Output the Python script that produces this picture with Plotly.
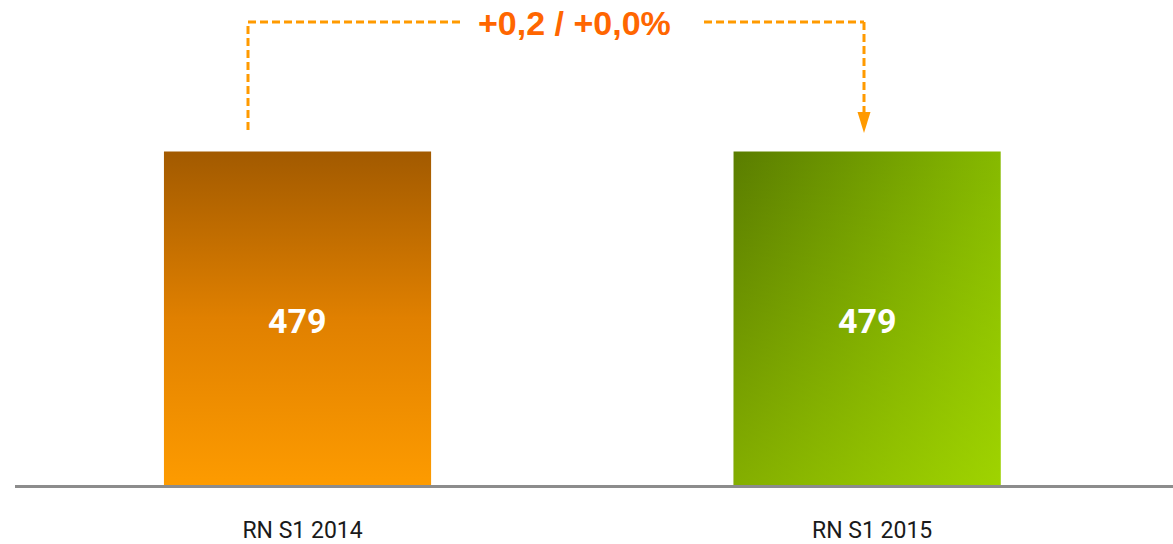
import plotly.graph_objects as go

# ---- data ----
categories = ["RN S1 2014", "RN S1 2015"]
values = [479, 479]
value_labels = ["479", "479"]
delta_label = "+0,2 / +0,0%"

# ---- layout constants (pixels) ----
W, H = 1173, 544
M_L, M_R, M_T, M_B = 15, 0, 0, 59
plot_h = H - M_T - M_B
x_range = [-0.496, 1.537]
y_range = [0, 696.6]
bar_w = 0.469

fig = go.Figure()

def rect(c, v):
    return ([c - bar_w / 2, c + bar_w / 2, c + bar_w / 2, c - bar_w / 2, c - bar_w / 2],
            [0, 0, v, v, 0])

# orange bar (vertical gradient)
xs, ys = rect(0, values[0])
fig.add_trace(go.Scatter(
    x=xs, y=ys, mode="lines", fill="toself", line=dict(width=0),
    fillgradient=dict(type="vertical",
                      colorscale=[[0, "#fd9b00"], [0.5, "#e08000"], [1, "#a25a00"]]),
    hoverinfo="skip", showlegend=False))

# green bar (diagonal gradient approximated by horizontal + vertical overlay)
xs, ys = rect(1, values[1])
fig.add_trace(go.Scatter(
    x=xs, y=ys, mode="lines", fill="toself", line=dict(width=0),
    fillgradient=dict(type="horizontal",
                      colorscale=[[0, "#5a7d00"], [1, "#86b900"]]),
    hoverinfo="skip", showlegend=False))
fig.add_trace(go.Scatter(
    x=xs, y=ys, mode="lines", fill="toself", line=dict(width=0),
    fillgradient=dict(type="vertical",
                      colorscale=[[0, "rgba(200,255,0,0.38)"], [1, "rgba(200,255,0,0)"]]),
    hoverinfo="skip", showlegend=False))

# value labels
for i, (v, t) in enumerate(zip(values, value_labels)):
    fig.add_annotation(x=i, y=v / 2, text=t, showarrow=False, yshift=-3,
                       font=dict(family="Roboto", size=34, color="white", weight="bold"),
                       xref="x", yref="y", yanchor="middle")

# connector (pixel helpers)
def py(p):
    return (M_T + plot_h - p) / plot_h

scale = (W - M_L - M_R) / (x_range[1] - x_range[0])
def px(p):
    return x_range[0] + (p - M_L) / scale

dash_style = dict(color="#ff9a00", width=3, dash="8px,4px")
y_top = py(22)
fig.add_shape(type="line", xref="x", yref="paper", x0=px(248), x1=px(248), y0=py(130), y1=y_top, line=dash_style)
fig.add_shape(type="line", xref="x", yref="paper", x0=px(248), x1=px(462), y0=y_top, y1=y_top, line=dash_style)
fig.add_shape(type="line", xref="x", yref="paper", x0=px(704), x1=px(864), y0=y_top, y1=y_top, line=dash_style)
fig.add_shape(type="line", xref="x", yref="paper", x0=px(864), x1=px(864), y0=y_top, y1=py(113), line=dash_style)
fig.add_shape(type="path", xref="x", yref="paper",
              path=f"M {px(857.5)} {py(112)} L {px(870.5)} {py(112)} L {px(864)} {py(133)} Z",
              fillcolor="#ff9a00", line=dict(width=0))

fig.add_annotation(x=px(574), y=py(23), xref="x", yref="paper", text=f"<b>{delta_label}</b>",
                   showarrow=False, xanchor="center", yanchor="middle",
                   font=dict(family="Liberation Sans", size=34, color="#ff6600"))

fig.update_layout(
    width=W, height=H,
    margin=dict(l=M_L, r=M_R, t=M_T, b=M_B),
    paper_bgcolor="white", plot_bgcolor="white",
    showlegend=False,
    xaxis=dict(range=x_range, tickmode="array", tickvals=[0, 1], ticktext=categories,
               showgrid=False, zeroline=False, showline=True, linecolor="#8c8c8c", linewidth=3,
               ticks="", ticklabelstandoff=22, ticklabelshift=5,
               tickfont=dict(family="Roboto", size=23, color="#1a1a1a"), fixedrange=True),
    yaxis=dict(range=y_range, visible=False, showgrid=False, zeroline=False, fixedrange=True),
)

fig.write_html("out.html", config={"displayModeBar": False},
               post_script="document.body.style.margin='0';")
